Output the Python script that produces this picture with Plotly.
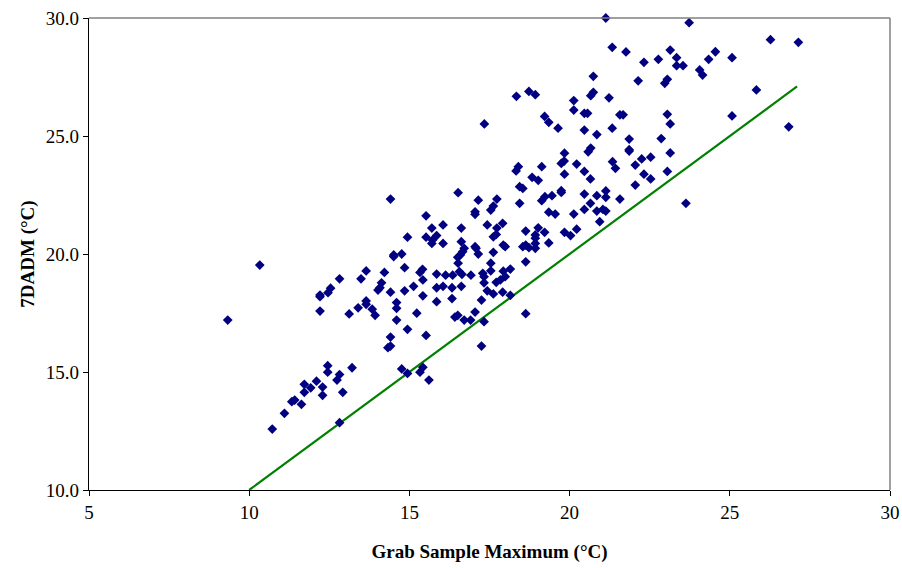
import plotly.graph_objects as go

# Grab sample maximum (x, degC) vs 7DADM (y, degC)
grab_max = [
    10.33, 9.33, 12.21, 12.21, 12.46, 12.54, 12.82, 12.21, 13.12, 12.45,
    12.45, 13.21, 12.82, 12.74, 12.10, 11.72, 11.92, 12.29, 11.72, 12.29,
    12.92, 11.42, 11.33, 11.63, 11.10, 10.72, 12.82,
    15.70, 15.72, 16.05, 16.62, 17.05, 17.08, 17.93, 14.51, 14.51, 14.76,
    16.71, 16.66, 16.59, 16.51, 17.15, 17.62, 16.52, 17.54, 14.85, 13.65,
    14.22, 15.33, 15.41, 15.85, 16.13, 16.35, 16.56, 16.64, 16.92, 17.29,
    17.33, 17.54, 17.93, 17.99, 13.49, 14.13, 14.08, 14.02, 15.42, 17.33,
    17.71, 17.84, 14.41, 14.85, 15.13, 15.85, 16.05, 16.33, 16.62, 17.43,
    17.62, 17.91, 15.42, 16.33, 17.25, 15.85, 13.65, 13.65, 14.60, 14.60,
    13.40, 13.84, 13.93, 15.23, 16.42, 16.51, 16.71, 16.91, 17.05, 17.33,
    14.60, 14.94, 14.41, 15.52, 14.41, 14.33, 17.25, 14.76, 14.94, 15.42,
    15.33, 15.61,
    17.34, 14.41, 16.52, 17.15, 17.73, 17.05, 17.05, 17.62, 17.54, 15.52,
    16.05, 15.70, 16.62, 17.43, 17.73, 17.91, 14.94, 15.52, 15.85, 17.62,
    17.71,
    19.84, 20.58, 21.86, 18.40, 18.33, 19.13, 19.74, 19.83, 20.22, 21.34,
    21.43, 22.05, 22.25, 22.32, 20.46, 19.84, 18.83, 19.02, 20.65, 22.05,
    18.44, 18.54, 19.74, 19.74, 20.46, 20.85, 21.13, 21.13, 21.57, 19.23,
    19.13, 19.45, 18.44, 20.65, 20.46, 20.85, 21.04, 21.13, 19.35, 19.55,
    20.13, 20.94, 19.02, 18.63, 19.22, 19.84, 20.22, 20.03, 18.93, 18.93,
    18.93, 19.35, 18.54, 18.63, 18.73, 18.93, 17.99, 18.63, 18.15, 18.15,
    18.63,
    21.13, 21.33, 21.76, 22.32, 20.74, 22.14, 18.34, 18.73, 18.93, 20.13,
    20.74, 20.66, 21.23, 20.13, 20.46, 20.56, 21.57, 21.67, 19.22, 19.35,
    19.64, 20.46, 20.85, 21.33, 21.86, 21.86, 20.66,
    23.73, 26.27, 27.14, 23.14, 24.55, 22.77, 23.34, 23.34, 23.54, 24.34,
    25.07, 24.06, 24.15, 23.05, 22.97, 25.83, 25.07, 23.05, 23.14, 26.84,
    22.86, 23.14, 22.53, 22.53, 23.05, 23.63,
]
dadm7 = [
    19.53, 17.20, 18.19, 18.26, 18.36, 18.55, 18.95, 17.58, 17.46, 15.27,
    14.99, 15.18, 14.89, 14.66, 14.61, 14.48, 14.33, 14.36, 14.14, 14.01,
    14.14, 13.81, 13.74, 13.63, 13.25, 12.58, 12.85,
    20.45, 20.59, 20.45, 20.52, 20.31, 20.24, 20.38, 19.96, 19.89, 20.00,
    20.24, 20.10, 19.96, 19.86, 20.00, 20.07, 19.61, 19.61, 19.42, 19.28,
    19.22, 19.22, 19.35, 19.15, 19.10, 19.10, 19.25, 19.14, 19.10, 19.18,
    19.04, 19.29, 19.27, 19.04, 18.95, 18.78, 18.57, 18.47, 18.90, 18.78,
    18.80, 18.90, 18.38, 18.44, 18.63, 18.57, 18.63, 18.57, 18.63, 18.44,
    18.31, 18.38, 18.23, 18.11, 18.05, 17.98, 18.01, 17.87, 17.94, 17.70,
    17.72, 17.66, 17.40, 17.49, 17.33, 17.40, 17.20, 17.20, 17.54, 17.13,
    17.20, 16.81, 16.48, 16.55, 16.10, 16.03, 16.10, 15.13, 14.94, 15.20,
    14.99, 14.66,
    25.51, 22.33, 22.60, 22.28, 22.33, 21.79, 21.68, 22.03, 21.86, 21.62,
    21.23, 21.10, 21.10, 21.23, 21.10, 21.30, 20.71, 20.71, 20.78, 20.73,
    20.83,
    24.27, 24.33, 24.36, 23.70, 23.52, 23.70, 23.84, 23.94, 23.81, 23.91,
    23.63, 23.77, 24.03, 23.38, 23.50, 23.38, 23.25, 23.12, 23.18, 22.92,
    22.85, 22.78, 22.68, 22.61, 22.54, 22.47, 22.67, 22.40, 22.33, 22.43,
    22.26, 22.47, 22.15, 22.15, 21.89, 21.82, 21.89, 21.82, 21.77, 21.69,
    21.69, 21.37, 21.11, 20.97, 20.92, 20.92, 21.05, 20.78, 20.81, 20.67,
    20.45, 20.47, 20.31, 20.38, 20.27, 20.24, 20.31, 19.67, 19.36, 18.25,
    17.47,
    30.00, 28.76, 28.56, 28.12, 27.53, 27.34, 26.68, 26.89, 26.75, 26.50,
    26.85, 26.71, 26.62, 26.10, 25.96, 25.96, 25.90, 25.90, 25.83, 25.58,
    25.33, 25.25, 25.06, 25.33, 24.87, 24.42, 24.49,
    29.80, 29.08, 28.97, 28.64, 28.57, 28.25, 28.32, 27.98, 27.98, 28.25,
    28.32, 27.80, 27.58, 27.40, 27.23, 26.95, 25.85, 25.92, 25.51, 25.39,
    24.89, 24.28, 24.10, 23.18, 23.50, 22.15,
]

# 1:1 reference line
line_x = [10.0, 27.1]
line_y = [10.0, 27.1]

x_ticks = [5, 10, 15, 20, 25, 30]
y_ticks = [10, 15, 20, 25, 30]

FONT = "Liberation Serif, Times New Roman, serif"

fig = go.Figure()
fig.add_trace(go.Scatter(
    x=line_x, y=line_y, mode="lines",
    line=dict(color="#008000", width=2.2),
    showlegend=False, hoverinfo="skip", cliponaxis=False,
))
fig.add_trace(go.Scatter(
    x=grab_max, y=dadm7, mode="markers",
    marker=dict(symbol="diamond", size=7.5, color="#000080"),
    showlegend=False, cliponaxis=False,
))

fig.update_layout(
    width=902, height=568,
    margin=dict(l=89, r=12, t=18, b=78, autoexpand=False),
    paper_bgcolor="white", plot_bgcolor="white",
    font=dict(family=FONT, size=19, color="black"),
    xaxis=dict(
        range=[5, 30], tickvals=x_ticks, ticktext=[str(v) for v in x_ticks],
        showgrid=False, zeroline=False, automargin=False,
        showline=True, linecolor="black", linewidth=1.2,
        ticks="outside", ticklen=5, tickcolor="black",
        tickfont=dict(size=19),
        title=dict(text="<b>Grab Sample Maximum (°C)</b>", font=dict(size=19), standoff=22),
    ),
    yaxis=dict(
        range=[10, 30], tickvals=y_ticks, ticktext=[f"{v:.1f}" for v in y_ticks],
        showgrid=False, zeroline=False, automargin=False,
        showline=True, linecolor="black", linewidth=1.2,
        ticks="outside", ticklen=5, tickcolor="black",
        tickfont=dict(size=19),
        title=dict(text="<b>7DADM (°C)</b>", font=dict(size=19), standoff=6),
    ),
    shapes=[
        dict(type="line", xref="paper", yref="paper", x0=0, x1=1, y0=1, y1=1,
             line=dict(color="#808080", width=1.5)),
        dict(type="line", xref="paper", yref="paper", x0=1, x1=1, y0=0, y1=1,
             line=dict(color="#808080", width=1.5)),
    ],
)

fig.write_html(
    "out.html",
    config={"displayModeBar": False},
    post_script="document.body.style.margin='0';document.body.style.overflow='hidden';",
)
